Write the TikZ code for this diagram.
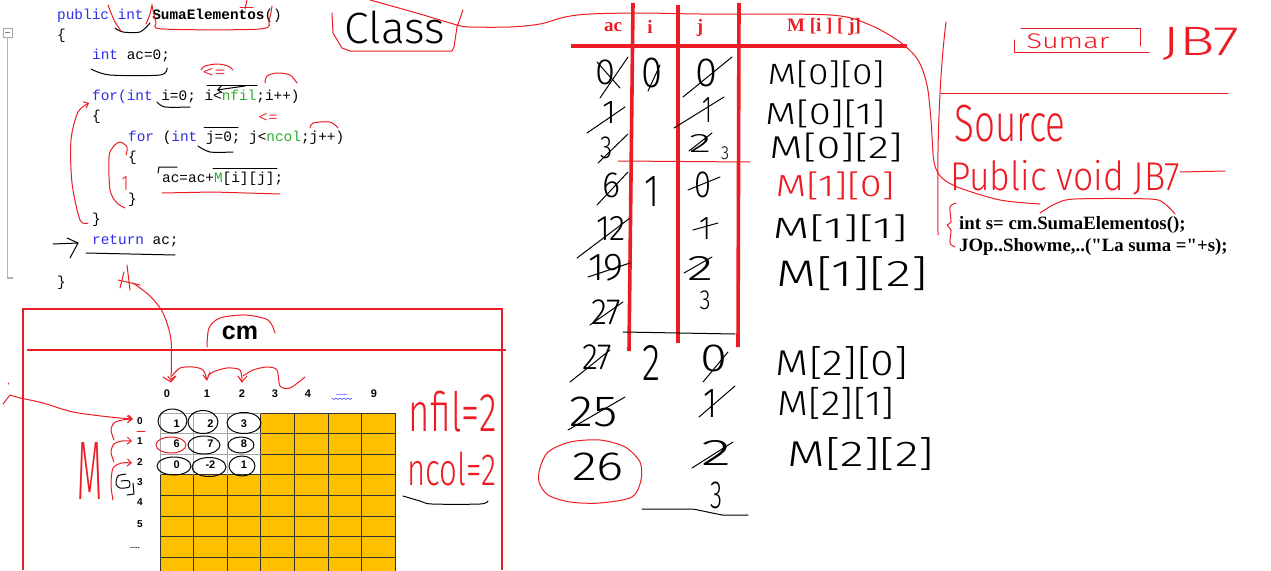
\documentclass[tikz,border=0pt]{standalone}
\usepackage{fontspec}
\usetikzlibrary{arrows.meta}
\newfontfamily\codefont{Liberation Mono}
\newfontfamily\lserif{Liberation Serif}
\newfontfamily\lsans{Liberation Sans}
\newfontfamily\handfont{Fira Sans Light}
\definecolor{penred}{HTML}{ED1C24}
\definecolor{gold}{HTML}{FFC000}
\definecolor{kwblue}{RGB}{45,45,235}
\definecolor{kwgreen}{RGB}{40,175,40}
\definecolor{gridline}{HTML}{333333}
\newcommand\hwt[7]{\node[hand,text=#7] (#1) at (#2,#3) {\resizebox*{#4pt}{#5pt}{#6}};}
\tikzset{
  rp/.style={draw=penred, line width=1pt, line cap=round, line join=round},
  bp/.style={draw=black, line width=1pt, line cap=round, line join=round},
  tabline/.style={draw=penred, line width=3.6pt},
  boxline/.style={draw=penred, line width=2pt},
  hand/.style={inner sep=0pt, font=\handfont},
  code/.style={inner sep=0pt, anchor=base west, font={\codefont\fontsize{14.4pt}{17pt}\selectfont\frenchspacing}},
  gridnum/.style={inner sep=0pt, font={\lsans\bfseries\fontsize{11pt}{13pt}\selectfont}},
  hdr/.style={inner sep=0pt, text=penred, font={\lserif\bfseries\fontsize{19pt}{22pt}\selectfont}},
  jtext/.style={inner sep=0pt, anchor=base west, font={\lserif\bfseries\fontsize{18.8pt}{22pt}\selectfont\frenchspacing}},
  barb/.style={-{Straight Barb[length=4pt,width=7pt]}},
}
\begin{document}
\begin{tikzpicture}[x=1pt,y=-1pt]
\useasboundingbox (0,0) rectangle (1271,570);
\clip (0,0) rectangle (1271,570);
\fill[white] (0,0) rectangle (1271,570);

% ---------- code ----------
\draw[gray!70] (3,28) rectangle (12,37);
\draw[gray] (5,32.5) -- (10,32.5);
\draw[gray!60, line width=1.2pt] (7.5,37) -- (7.5,278) -- (13,278);
\node[code] (c1) at (57,19) {\textcolor{kwblue}{public int} \textbf{SumaElementos}()};
\node[code] (c2) at (57,39) {\{};
\node[code] (c3) at (92,59) {\textcolor{kwblue}{int} ac=0;};
\node[code] (c4) at (92,100) {\textcolor{kwblue}{for(int} i=0; i<\textcolor{kwgreen}{nfil};i++)};
\node[code] (c5) at (92,120) {\{};
\node[code] (c6) at (128,141) {\textcolor{kwblue}{for} (\textcolor{kwblue}{int} j=0; j<\textcolor{kwgreen}{ncol};j++)};
\node[code] (c7) at (128,161) {\{};
\node[code] (c8) at (162,182) {ac=ac+\textcolor{kwgreen}{M}[i][j];};
\node[code] (c9) at (128,203) {\}};
\node[code] (c10) at (92,223) {\}};
\node[code] (c11) at (92,244) {\textcolor{kwblue}{return} ac;};
\node[code] (c12) at (57,286) {\}};

% code annotations, black
\draw[bp] plot[smooth] coordinates {(115,28) (123,32) (140,32) (150,23)};
\draw[bp] plot[smooth] coordinates {(91,69) (110,75) (160,75) (167,68)};
\draw[bp] (207,85) -- (257,85);
\draw[bp,barb] (245,86) -- (217,90);
\draw[bp] plot[smooth] coordinates {(157,102) (165,107) (190,107)};
\draw[bp] (204,127) -- (238,127);
\draw[bp] plot[smooth] coordinates {(198,146) (210,152) (233,152)};
\draw[bp] (158,173) -- (159,167) -- (177,167);
\draw[bp] (213,168) -- (277,168);
\draw[bp] (53,244) -- (78,243);
\draw[bp] (67,238) -- (78,243) -- (70,258);
\draw[bp] (86,253) -- (175,255);

% code annotations, red
\draw[rp] plot[smooth] coordinates {(108,5) (114,20) (121,31)};
\draw[rp] plot[smooth] coordinates {(146,24) (150,14) (152,5)};
\draw[rp] plot[smooth] coordinates {(152,5) (156,22) (163,29) (260,29) (269,20) (272,6)};
\draw[rp] (240,7) -- (253,7);
\draw[rp] (247,0) -- (245,9);
\draw[rp] plot[smooth] coordinates {(201,70) (205,66) (217,64) (228,66) (233,70)};
\hwt{le1}{214}{73}{24}{10}{<=}{penred}
\draw[rp] plot[smooth] coordinates {(265,83) (267,76) (277,73) (290,75) (297,83)};
\hwt{le2}{268}{118}{20}{10}{<=}{penred}
\draw[rp] plot[smooth] coordinates {(310,128) (313,123) (330,122) (338,128)};
\draw[rp,barb] plot[smooth] coordinates {(88,223) (80,220) (72,183) (71,140) (78,112) (89,103)};
\draw[rp] plot[smooth] coordinates {(125,208) (117,203) (110,190) (109,157) (113,147) (120,142) (127,147) (126,155)};
\hwt{one1}{125}{183}{7}{14}{1}{penred}
\draw[rp] (162,193) -- (213,192) -- (280,194);
\draw[rp] (127,265) -- (130,290);
\draw[rp] (118,280) -- (140,285);
\draw[rp] (124,272) -- (120,288);
\draw[rp,barb] plot[smooth] coordinates {(133,283) (150,296) (163,313) (171,340) (171,381)};

% ---------- cm object ----------
\draw[boxline] (23,570) -- (23,309) -- (502,309) -- (502,570);
\draw[boxline] (27,350) -- (506,350);
\node[inner sep=0pt, font={\lsans\bfseries\fontsize{25pt}{28pt}\selectfont}] (cm) at (240,333) {cm};
\draw[rp] plot[smooth] coordinates {(207,347) (209,328) (220,318) (245,315) (268,320) (275,333)};

% grid
\fill[gold] (160,413) rectangle (395.2,580);
\fill[white] (160,413) rectangle (260.8,474.8);
\foreach \i in {0,...,7} \draw[gridline, line width=0.9pt] (160+33.6*\i,413) -- (160+33.6*\i,580);
\foreach \j in {0,...,8} \draw[gridline, line width=0.9pt] (160,413+20.6*\j) -- (395.2,413+20.6*\j);
\draw[gray!70, line width=0.9pt] (160,474.8) -- (160,413) -- (260.8,413);
\draw[gray!70, line width=0.9pt] (193.6,413) -- (193.6,474.8) (227.2,413) -- (227.2,474.8)
   (160,433.6) -- (260.8,433.6) (160,454.2) -- (260.8,454.2);

% column and row labels
\node[gridnum] (h0) at (167,394) {0};
\node[gridnum] (h1) at (207,394) {1};
\node[gridnum] (h2) at (242,394) {2};
\node[gridnum] (h3) at (275,394) {3};
\node[gridnum] (h4) at (308,394) {4};
\node[gridnum, text=blue!80, font={\lsans\bfseries\fontsize{7pt}{8pt}\selectfont}] (hd) at (342,395) {......};
\draw[blue!70, line width=0.6pt] plot coordinates {(332,398) (334,399.5) (336,398) (338,399.5) (340,398) (342,399.5) (344,398) (346,399.5) (348,398) (350,399.5) (352,398)};
\node[gridnum] (h9) at (374,394) {9};
\node[gridnum, font={\lsans\bfseries\fontsize{10pt}{12pt}\selectfont}] (r0) at (140,421) {0};
\node[gridnum, font={\lsans\bfseries\fontsize{10pt}{12pt}\selectfont}] (r1) at (140,441) {1};
\node[gridnum, font={\lsans\bfseries\fontsize{10pt}{12pt}\selectfont}] (r2) at (140,462) {2};
\node[gridnum, font={\lsans\bfseries\fontsize{10pt}{12pt}\selectfont}] (r3) at (140,482) {3};
\node[gridnum, font={\lsans\bfseries\fontsize{10pt}{12pt}\selectfont}] (r4) at (140,502) {4};
\node[gridnum, font={\lsans\bfseries\fontsize{10pt}{12pt}\selectfont}] (r5) at (140,524) {5};
\node[gridnum, font={\lsans\bfseries\fontsize{7pt}{8pt}\selectfont}] (rd) at (135,548) {.....};

% cell values
\node[gridnum] (v00) at (176.8,423.3) {1};
\node[gridnum] (v01) at (210.4,423.3) {2};
\node[gridnum] (v02) at (244,423.3) {3};
\node[gridnum] (v10) at (176.8,443.9) {6};
\node[gridnum] (v11) at (210.4,443.9) {7};
\node[gridnum] (v12) at (244,443.9) {8};
\node[gridnum] (v20) at (176.8,464.5) {0};
\node[gridnum] (v21) at (210.4,464.5) {-2};
\node[gridnum] (v22) at (244,464.5) {1};
\draw[bp] (172.5,421) ellipse [x radius=14.5, y radius=12];
\draw[bp] (203,422) ellipse [x radius=15, y radius=11.5];
\draw[bp] (244,423) ellipse [x radius=17, y radius=10.5];
\draw[rp] (171,445) ellipse [x radius=15, y radius=8];
\draw[bp] (204,445) ellipse [x radius=16, y radius=9];
\draw[bp] (241,445) ellipse [x radius=13, y radius=8];
\draw[bp] (174,466) ellipse [x radius=17, y radius=9];
\draw[bp] (209,467) ellipse [x radius=17, y radius=9.5];
\draw[bp] (242,466) ellipse [x radius=13, y radius=10];

% red marks around the grid
\draw[rp] plot[smooth] coordinates {(172,376) (180,368) (193,367) (203,370) (207,380)};
\draw[rp] (203,375) -- (207,380) -- (210,372);
\draw[rp] plot[smooth] coordinates {(208,376) (213,372) (227,368) (240,370) (242,382)};
\draw[rp] (238,376) -- (242,382) -- (247,376);
\draw[rp] plot[smooth] coordinates {(243,376) (253,370) (267,367) (277,370) (280,386) (290,388) (305,377)};
\draw[rp] (163,377) -- (171,382) -- (176,376);
\draw[rp] (3,404) -- (10,395) -- (20,398);
\draw[rp] (8,383) -- (8,384);
\draw[rp,barb] plot[smooth] coordinates {(20,398) (43,403) (73,412) (110,417) (133,419)};
\hwt{Mred}{90}{471}{25}{57}{M}{penred}
\draw[rp,barb] plot[smooth] coordinates {(114,440) (111,430) (114,423) (122,420) (132,419)};
\draw[rp,barb] plot[smooth] coordinates {(114,462) (111,452) (114,444) (122,441) (132,441)};
\draw[rp,barb] plot[smooth] coordinates {(113,500) (111,485) (113,468) (122,463) (132,463)};
\draw[rp] (137,431) -- (145,431);
\draw[bp] plot[smooth] coordinates {(126,474) (118,476) (116,484) (120,488) (129,487) (129,481) (121,481)};
\draw[bp] (133,483) -- (134,494) -- (127,495);
\hwt{nfil}{453}{412}{88}{41}{nfil=2}{penred}
\hwt{ncol}{452}{469}{89}{34}{ncol=2}{penred}
\draw[bp] plot[smooth] coordinates {(403,496) (420,501) (432,504) (480,504) (488,501)};

% ---------- "Class" ----------
\hwt{class}{395}{27}{100}{33}{Class}{black}
\draw[rp] plot coordinates {(332,13) (333,33) (342,48) (350,51) (452,51) (454,47) (457,27) (463,10)};
\draw[rp] plot[smooth] coordinates {(370,0) (420,14) (457,25) (470,27) (510,27) (540,24) (565,17) (590,14) (640,13) (700,14) (830,15) (870,25) (900,42) (918,60) (927,85) (931,120) (934,162) (942,178) (960,188) (1000,200) (1040,204)};

% ---------- trace table ----------
\draw[tabline] (571,46) -- (907,46);
\draw[tabline] (633,3) -- (629,351);
\draw[tabline] (678,5) -- (678,343);
\draw[tabline] (739,3) -- (738,347);
\draw[rp] (618,161) -- (750,162);
\draw[bp] (623,332) -- (735,334);
\draw[bp] plot coordinates {(642,509) (693,509) (722,515) (748,515)};
\node[hdr] (tac) at (613,27) {ac};
\node[hdr] (ti) at (650,27) {i};
\node[hdr] (tj) at (700,28) {j};
\node[hdr] (tm) at (824,27) {M [i ] [ j]};

% ac column
\hwt{ac0}{605}{72.5}{20}{25}{0}{black}
\hwt{ac1}{609}{112}{14}{22}{1}{black}
\hwt{ac3}{606}{148}{12}{22}{3}{black}
\hwt{ac6}{611}{185}{18}{25}{6}{black}
\hwt{ac12}{611}{228}{30}{24}{12}{black}
\hwt{ac19}{606}{268}{36}{27}{19}{black}
\hwt{ac27a}{606}{312}{30}{25}{27}{black}
\hwt{ac27b}{597}{357}{30}{25}{27}{black}
\hwt{ac25}{594}{412}{48}{30}{25}{black}
\hwt{ac26}{598}{467}{52}{28}{26}{black}
\draw[bp] (600,98) -- (628,57);
\draw[bp] (597,62) -- (620,88);
\draw[bp] (587,133) -- (625,107);
\draw[bp] (598,163) -- (628,134);
\draw[bp] (597,205) -- (628,172);
\draw[bp] (577,258) -- (630,218);
\draw[bp] (588,277) -- (630,263);
\draw[bp] (590,325) -- (623,302);
\draw[bp] (570,382) -- (610,350);
\draw[bp] (568,430) -- (625,397);
\draw[rp] plot[smooth cycle] coordinates {(540,468) (548,452) (570,442) (600,440) (625,447) (640,462) (641,480) (632,497) (600,503) (570,502) (548,495) (539,482)};

% i column
\hwt{i0}{652}{73}{21}{30}{0}{black}
\hwt{i1}{652}{191}{15}{30}{1}{black}
\hwt{i2}{651}{363}{18}{35}{2}{black}
\draw[bp] (648,91) -- (660,65);

% j column
\hwt{j0}{706}{73}{22}{28}{0}{black}
\hwt{j1}{707}{110}{10}{25}{1}{black}
\hwt{j2}{700}{143}{22}{18}{2}{black}
\hwt{j3s}{725}{153}{8}{13}{3}{black}
\hwt{j0b}{703}{185}{17}{26}{0}{black}
\hwt{j1b}{705}{228}{12}{22}{1}{black}
\hwt{j2b}{700}{268}{26}{24}{2}{black}
\hwt{j3}{705}{300}{11}{19}{3}{black}
\hwt{j0c}{714}{358}{27}{27}{0}{black}
\hwt{j1c}{710}{403}{14}{28}{1}{black}
\hwt{j2c}{716}{453}{30}{25}{2}{black}
\hwt{j3c}{716}{495}{12}{27}{3}{black}
\draw[bp] (683,97) -- (732,57);
\draw[bp] (674,128) -- (724,97);
\draw[bp] (689,151) -- (712,133);
\draw[bp] (688,190) -- (720,177);
\draw[bp] (693,230) -- (718,223);
\draw[bp] (684,273) -- (712,257);
\draw[bp] (703,382) -- (728,352);
\draw[bp] (699,417) -- (735,386);
\draw[bp] (692,468) -- (733,442);

% M column
\hwt{m00}{826}{74.5}{117}{27}{M[0][0]}{black}
\hwt{m01}{825}{114}{120}{28}{M[0][1]}{black}
\hwt{m02}{836}{147.5}{133}{29}{M[0][2]}{black}
\hwt{m10}{835}{186}{119}{28}{M[1][0]}{penred}
\hwt{m11}{840}{228.5}{135}{27}{M[1][1]}{black}
\hwt{m12}{852}{274}{151}{34}{M[1][2]}{black}
\hwt{m20}{842}{363}{132}{33}{M[2][0]}{black}
\hwt{m21}{836}{403}{117}{32}{M[2][1]}{black}
\hwt{m22}{861}{454}{147}{33}{M[2][2]}{black}

% ---------- right panel ----------
\draw[rp] plot[smooth] coordinates {(946,22) (943,50) (940,93) (938,150) (938,235)};
\draw[rp] (941,93) -- (1228,93);
\draw[rp] (1014,40) -- (1014,52) -- (1149,52);
\draw[rp] (1021,28) -- (1140,28) -- (1140,46);
\hwt{sumar}{1068}{41}{83}{15}{Sumar}{penred}
\hwt{jb7a}{1201}{44}{77}{33}{JB7}{penred}
\hwt{source}{1010}{124}{111}{37}{Source}{penred}
\hwt{pvoid}{1065}{177.5}{230}{35}{Public void JB7}{penred}
\draw[rp] (1180,172) -- (1225,171);
\draw[rp] plot[smooth] coordinates {(956,203) (950,207) (951,222) (947,225) (951,230) (950,243) (955,247)};
\node[jtext] (call1) at (959,229) {int s= cm.SumaElementos();};
\node[jtext] (call2) at (959,251) {JOp..Showme,..("La suma ="+s);};
\draw[rp] plot[smooth] coordinates {(1040,213) (1055,204) (1075,199) (1150,199) (1165,204) (1175,214)};
\end{tikzpicture}
\end{document}
